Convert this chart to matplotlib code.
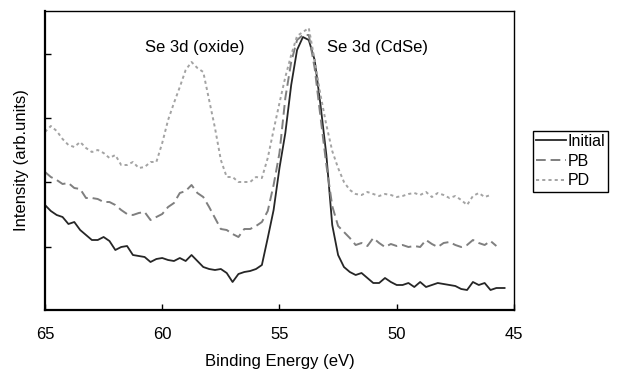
import matplotlib
matplotlib.use('Agg')
import matplotlib.pyplot as plt
from matplotlib.ticker import MultipleLocator

plt.rcParams['font.family'] = ['Liberation Sans', 'DejaVu Sans']

# binding energy grid (eV)
energy = [65.0, 64.75, 64.5, 64.25, 64.0, 63.75, 63.5, 63.25, 63.0, 62.75,
          62.5, 62.25, 62.0, 61.75, 61.5, 61.25, 61.0, 60.75, 60.5, 60.25,
          60.0, 59.75, 59.5, 59.25, 59.0, 58.75, 58.5, 58.25, 58.0, 57.75,
          57.5, 57.25, 57.0, 56.75, 56.5, 56.25, 56.0, 55.75, 55.5, 55.25,
          55.0, 54.75, 54.5, 54.25, 54.0, 53.75, 53.5, 53.25, 53.0, 52.75,
          52.5, 52.25, 52.0, 51.75, 51.5, 51.25, 51.0, 50.75, 50.5, 50.25,
          50.0, 49.75, 49.5, 49.25, 49.0, 48.75, 48.5, 48.25, 48.0, 47.75,
          47.5, 47.25, 47.0, 46.75, 46.5, 46.25, 46.0, 45.75, 45.5, 45.4]

# intensities (arb. units)
initial = [106, 100, 96, 94, 87, 89, 81, 76, 71, 71,
           74, 70, 61, 64, 65, 56, 55, 54, 49, 52,
           53, 51, 50, 53, 50, 56, 50, 44, 42, 41,
           42, 38, 29, 37, 39, 40, 42, 46, 73, 101,
           143, 178, 226, 261, 274, 271, 251, 206, 156, 86,
           56, 44, 39, 36, 38, 33, 28, 28, 33, 29,
           26, 26, 28, 24, 29, 24, 26, 28, 27, 26,
           25, 22, 21, 29, 26, 28, 21, 23, 23, 23]

pb = [139, 134, 131, 127, 128, 123, 122, 113, 113, 112,
      109, 109, 106, 101, 97, 96, 98, 99, 91, 94,
      97, 104, 108, 118, 120, 126, 118, 114, 104, 93,
      82, 81, 77, 74, 82, 82, 85, 89, 100, 126,
      158, 213, 249, 271, 276, 276, 243, 194, 146, 105,
      85, 79, 73, 66, 68, 65, 73, 68, 64, 67,
      65, 66, 64, 65, 64, 71, 67, 64, 68, 69,
      66, 64, 66, 71, 68, 66, 70, 65]

pd_ = [179, 185, 180, 172, 166, 164, 169, 163, 159, 161,
       158, 153, 156, 146, 146, 149, 143, 144, 149, 149,
       168, 191, 208, 224, 241, 249, 243, 239, 211, 183,
       151, 134, 134, 129, 129, 129, 134, 133, 153, 181,
       208, 234, 256, 275, 279, 283, 251, 216, 186, 160,
       143, 129, 121, 117, 116, 119, 117, 115, 117, 116,
       114, 115, 117, 118, 116, 119, 114, 118, 116, 113,
       115, 111, 106, 115, 118, 114, 116]

labels = ['Initial', 'PB', 'PD']

fig = plt.figure(figsize=(6.17, 3.73), dpi=100)
ax = fig.add_axes([0.0729, 0.1689, 0.7601, 0.8016])

ax.plot(energy[:len(initial)], initial, color='#262626', lw=1.3, label=labels[0])
ax.plot(energy[:len(pb)], pb, color='#7f7f7f', lw=1.4, dashes=(5, 2.5), label=labels[1])
ax.plot(energy[:len(pd_)], pd_, color='#a3a3a3', lw=1.4, dashes=(1.6, 1.6), label=labels[2])

ax.set_xlim(65, 45)
ax.set_ylim(1, 300)
ax.set_xticks([65, 60, 55, 50, 45])
ax.yaxis.set_major_locator(MultipleLocator(64.3))
ax.set_yticklabels([])
ax.tick_params(direction='in', length=4, width=1, labelsize=12, colors='black')
ax.tick_params(axis='x', pad=12)
for s in ax.spines.values():
    s.set_linewidth(1.0)
    s.set_color('black')
ax.spines['left'].set_linewidth(1.6)
ax.spines['bottom'].set_linewidth(1.6)

ax.set_xlabel('Binding Energy (eV)', fontsize=12, labelpad=9)
ax.set_ylabel('Intensity (arb.units)', fontsize=12, labelpad=8)

ax.text(58.6, 264, 'Se 3d (oxide)', fontsize=12, ha='center', va='center')
ax.text(50.8, 264, 'Se 3d (CdSe)', fontsize=12, ha='center', va='center')

leg = fig.legend(loc='center left', bbox_to_anchor=(0.864, 0.568), fontsize=11.5,
                 frameon=True, fancybox=False, edgecolor='black', framealpha=1,
                 handlelength=1.85, handletextpad=0.1, labelspacing=0.3,
                 borderpad=0.2, borderaxespad=0)
leg.get_frame().set_linewidth(1.0)

fig.savefig('out.png', dpi=100)
